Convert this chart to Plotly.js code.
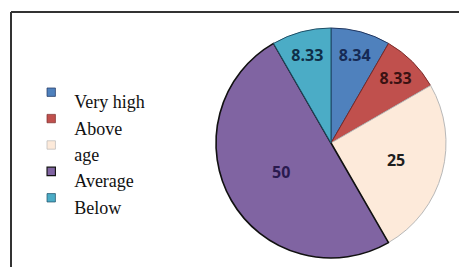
<!DOCTYPE html>
<html>
<head>
<meta charset="utf-8">
<script src="https://cdn.plot.ly/plotly-3.0.1.min.js"></script>
<style>html,body{margin:0;padding:0;background:#fff;}#chart{width:459px;height:267px;}</style>
</head>
<body>
<div id="chart"></div>
<script>
const categories = ["Very high", "Above", "age", "Average", "Below"];
const values = [8.34, 8.33, 25, 50, 8.33];
const valueLabels = ["8.34", "8.33", "25", "50", "8.33"];
const sliceColors = ["#4F81BD", "#C0504D", "#FDEADA", "#8064A2", "#4BACC6"];
const sliceLineColors = ["#1f3560", "#7a2a28", "#b8b8b8", "#111111", "#1c4e66"];
const sliceLineWidths = [1, 1, 1, 1.6, 1];
const textColors = ["#162a55", "#3a1212", "#1e1e1e", "#2a1a4f", "#0f2f48"];

const cx = 331, cy = 143, r = 115, W = 459, H = 267;

const trace = {
  type: "pie",
  labels: categories,
  values: values,
  text: valueLabels,
  textinfo: "text",
  textposition: "inside",
  insidetextorientation: "horizontal",
  sort: false,
  direction: "clockwise",
  rotation: 0,
  hoverinfo: "none",
  marker: { colors: sliceColors, line: { color: sliceLineColors, width: sliceLineWidths } },
  insidetextfont: { family: "Open Sans, Arial, sans-serif", size: 16, color: textColors, weight: 700 },
  domain: { x: [(cx - r) / W, (cx + r) / W], y: [1 - (cy + r) / H, 1 - (cy - r) / H] }
};

const layout = {
  width: W, height: H,
  margin: { l: 0, r: 0, t: 0, b: 0 },
  paper_bgcolor: "#ffffff",
  showlegend: true,
  legend: {
    x: 0.068, xanchor: "left",
    y: 0.457, yanchor: "middle",
    font: { family: "Liberation Serif, Times New Roman, serif", size: 18, color: "#111" },
    bgcolor: "rgba(0,0,0,0)",
    traceorder: "normal"
  },
  shapes: [
    { type: "line", xref: "paper", yref: "paper", x0: 11 / W, x1: 1, y0: 1 - 12 / H, y1: 1 - 12 / H, line: { color: "#333", width: 2 } },
    { type: "line", xref: "paper", yref: "paper", x0: 11 / W, x1: 11 / W, y0: 0, y1: 1 - 12 / H, line: { color: "#333", width: 2 } }
  ]
};

Plotly.newPlot("chart", [trace], layout, { staticPlot: true, displayModeBar: false }).then(function (gd) {
  // The source legend sets each label slightly below its colour swatch, with small swatches.
  gd.querySelectorAll(".legend .legendtext").forEach(function (t) { t.setAttribute("transform", "translate(3,9)"); });
  gd.querySelectorAll(".legend .legendpoints path").forEach(function (p) {
    const prev = p.getAttribute("transform") || "";
    p.setAttribute("transform", (prev + " scale(0.7)").trim());
  });
});
</script>
</body>
</html>
